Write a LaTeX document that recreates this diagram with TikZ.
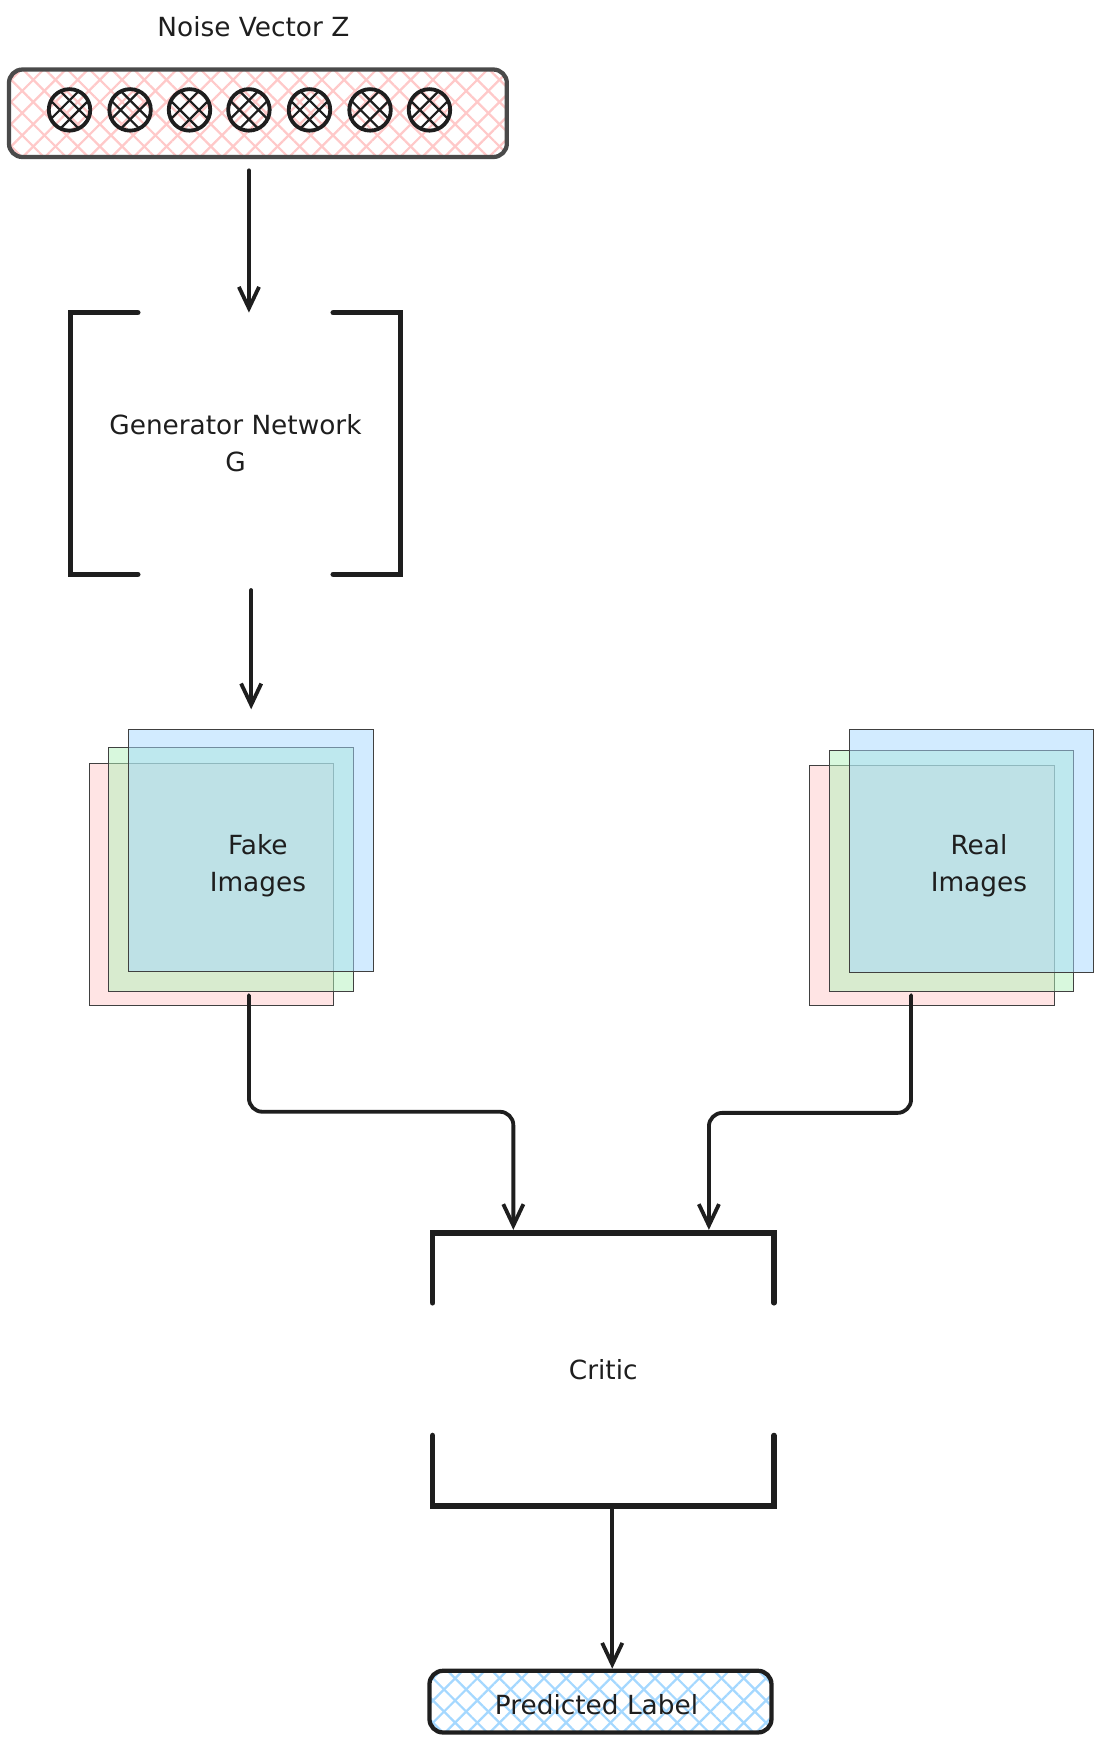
\documentclass[tikz,border=0pt]{standalone}
\usepackage{fontspec}
\setmainfont{DejaVu Sans}
\usetikzlibrary{arrows.meta,patterns.meta,calc}
\definecolor{ink}{HTML}{1E1E1E}
\definecolor{boxgray}{HTML}{4A4A4A}
\definecolor{hpink}{HTML}{FFC9C9}
\definecolor{hgreen}{HTML}{B2F2BB}
\definecolor{hblue}{HTML}{A5D8FF}
\tikzset{
  lbl/.style={font=\fontsize{23.5}{33}\selectfont, text=ink, align=center, inner sep=0pt},
  arr/.style={draw=ink, line width=3.4pt, line cap=round, line join=round,
    -{Straight Barb[length=19pt,width=18pt,line width=3.4pt]}},
  bracket/.style={draw=ink, line width=5pt, line cap=round, line join=miter},
  zcirc/.style={circle, draw=ink, line width=3.4pt, minimum size=37pt, inner sep=0pt,
    path picture={
      \begin{scope}[shift={(path picture bounding box.center)}]
        \draw[ink, line width=2pt]
          (-13.4,-21.9) -- (21.9,13.4)
          (-21.9,-13.4) -- (13.4,21.9)
          (-13.4,21.9) -- (21.9,-13.4)
          (-21.9,13.4) -- (13.4,-21.9);
      \end{scope}}},
  sheet/.style={draw=ink!85, line width=0.9pt, fill opacity=0.5, inner sep=0pt},
  hatchbox/.style={rounded corners=12pt, inner sep=0pt,
    preaction={pattern={Lines[angle=45,distance=14pt,line width=2pt]}, pattern color=#1},
    pattern={Lines[angle=-45,distance=14pt,line width=2pt]}, pattern color=#1},
}
\begin{document}
\begin{tikzpicture}[x=1pt,y=-1pt]
\useasboundingbox (0,0) rectangle (982,1566);

% noise vector
\node[lbl] (title) at (226,24) {Noise Vector Z};
\node[hatchbox=hpink, draw=boxgray, line width=3.8pt, minimum width=444pt, minimum height=78pt] (noise) at (230,101) {};
\foreach \i/\x in {1/62,2/116,3/169,4/222,5/276,6/330,7/383}
  \node[zcirc] (z\i) at (\x,98) {};

% generator
\node[lbl, minimum width=294pt, minimum height=233pt] (gen) at (210,395.5) {Generator Network\\G};
\draw[bracket] ($(gen.north west)+(60,0)$) -- (gen.north west) -- (gen.south west) -- ($(gen.south west)+(60,0)$);
\draw[bracket] ($(gen.north east)+(-60,0)$) -- (gen.north east) -- (gen.south east) -- ($(gen.south east)+(-60,0)$);

% fake images
\node[sheet, fill=hpink, minimum width=217pt, minimum height=216pt] (fakeP) at (188.5,789) {};
\node[sheet, fill=hgreen, minimum width=218pt, minimum height=217pt] (fakeG) at (206,775.5) {};
\node[sheet, fill=hblue, minimum width=218pt, minimum height=215pt] (fakeB) at (224,758.5) {};
\node[lbl] (fakeT) at (230,772) {Fake\\Images};

% real images
\node[sheet, fill=hpink, minimum width=218pt, minimum height=214pt] (realP) at (831,790) {};
\node[sheet, fill=hgreen, minimum width=217pt, minimum height=215pt] (realG) at (848.5,776.5) {};
\node[sheet, fill=hblue, minimum width=217pt, minimum height=216pt] (realB) at (866.5,759) {};
\node[lbl] (realT) at (873,772) {Real\\Images};

% critic
\node[lbl, minimum width=304pt, minimum height=243pt] (critic) at (538,1221.5) {Critic};
\draw[bracket] ($(critic.north west)+(0,62)$) -- (critic.north west) -- (critic.north east) -- ($(critic.north east)+(0,62)$);
\draw[bracket] ($(critic.south west)+(0,-63)$) -- (critic.south west) -- (critic.south east) -- ($(critic.south east)+(0,-63)$);

% predicted label
\node[hatchbox=hblue, draw=ink, line width=3.8pt, minimum width=305pt, minimum height=55pt] (pred) at (535.5,1517.5) {};
\node[lbl] (predT) at (532,1520) {Predicted Label};

% connectors
\draw[arr] ($(noise.south -| z4)+(0,10)$) -- (z4 |- gen.north);
\draw[arr] ($(gen.south -| fakeB)+(0,14)$) -- ($(fakeB.north)+(0,-18)$);
\draw[arr, rounded corners=12pt] ($(fakeG.south -| fakeB)+(-2,3)$) -- ++(0,104) -| ($(critic.north west)+(72,-3)$);
\draw[arr, rounded corners=12pt] ($(realG.south)+(-36,3)$) -- ++(0,105) -| ($(critic.north east)+(-58,-3)$);
\draw[arr] ($(critic.south)+(8,2)$) -- ($(pred.north)+(10.5,0)$);
\end{tikzpicture}
\end{document}
